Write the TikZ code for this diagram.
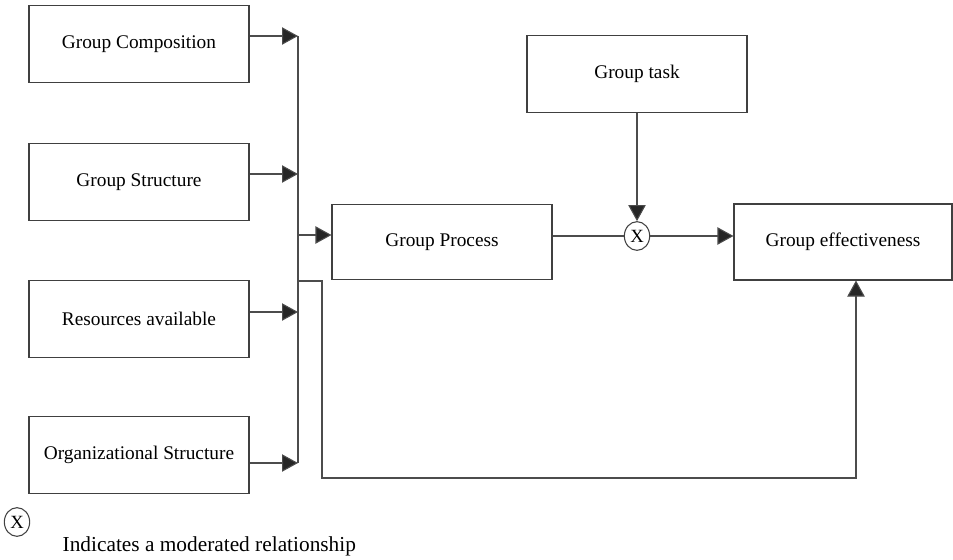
\documentclass[tikz,border=0pt]{standalone}
\usepackage{fontspec}
\setmainfont{Liberation Serif}
\usetikzlibrary{arrows.meta,calc,shapes.geometric}
\tikzset{
  box/.style={draw=black!75, line width=0.8pt, minimum width=165pt, minimum height=57.5pt, inner sep=0pt, font=\fontsize{14.5}{16}\selectfont},
  link/.style={draw=black!70, line width=0.8pt},
  arr/.style={link, -{Triangle[length=12pt,width=13pt,fill=black!85]}},
  modnode/.style={ellipse, draw=black!75, line width=0.8pt, minimum width=19pt, minimum height=21.5pt, inner sep=0pt, font=\fontsize{14}{15}\selectfont},
}

\begin{document}
\begin{tikzpicture}[x=0.75pt,y=-0.75pt]
		%%%%% START %%%%%
		\useasboundingbox (0,0) rectangle (953,560);
		
		\node[box] (comp) at (139,44) {Group Composition};
		\node[box] (struct) at (139,182) {Group Structure};
		\node[box] (res) at (139,319) {Resources available};
		\node[box] (org) at (139,455) {Organizational Structure};
		
		\node[box, minimum height=56pt] (proc) at (442,242) {Group Process};
		\node[box] (task) at (637,74) {Group task};
		\node[box, minimum width=163.5pt, minimum height=57pt] (eff) at (843,242) {Group effectiveness};
		\node[modnode] (mod) at (637,236) {X};
		
		% the bus on the left
		\coordinate (b1) at (298,36);
		\coordinate (b2) at (298,174);
		\coordinate (b3) at (298,312);
		\coordinate (b4) at (298,463);
		\coordinate (bp) at (298,235);
		\coordinate (bf) at (298,281);
		\draw[link] (b1) -- (b4);
		
		\draw[arr] (comp.east |- b1) -- (b1);
		\draw[arr] (struct.east |- b2) -- (b2);
		\draw[arr] (res.east |- b3) -- (b3);
		\draw[arr] (org.east |- b4) -- (b4);
		\draw[arr] (bp) -- (proc.west |- bp);
		
		\draw[link] (proc.east |- mod) -- (mod);
		\draw[arr] (task) -- (mod);
		\draw[arr] (mod) -- (eff.west |- mod);
		
		% direct path to effectiveness
		\coordinate (f1) at (322,478);
		\coordinate (fe) at (856,478);
		\draw[arr] (bf) -| (f1) -- (fe) -- (fe |- eff.south);
		
		% legend
		\node[modnode] (legkey) at (17,522) {X};
		\node[anchor=west, font=\fontsize{16}{18}\selectfont] (legtext) at (58,546) {Indicates a moderated relationship};
		%%%%% END %%%%%
\end{tikzpicture}
\end{document}
